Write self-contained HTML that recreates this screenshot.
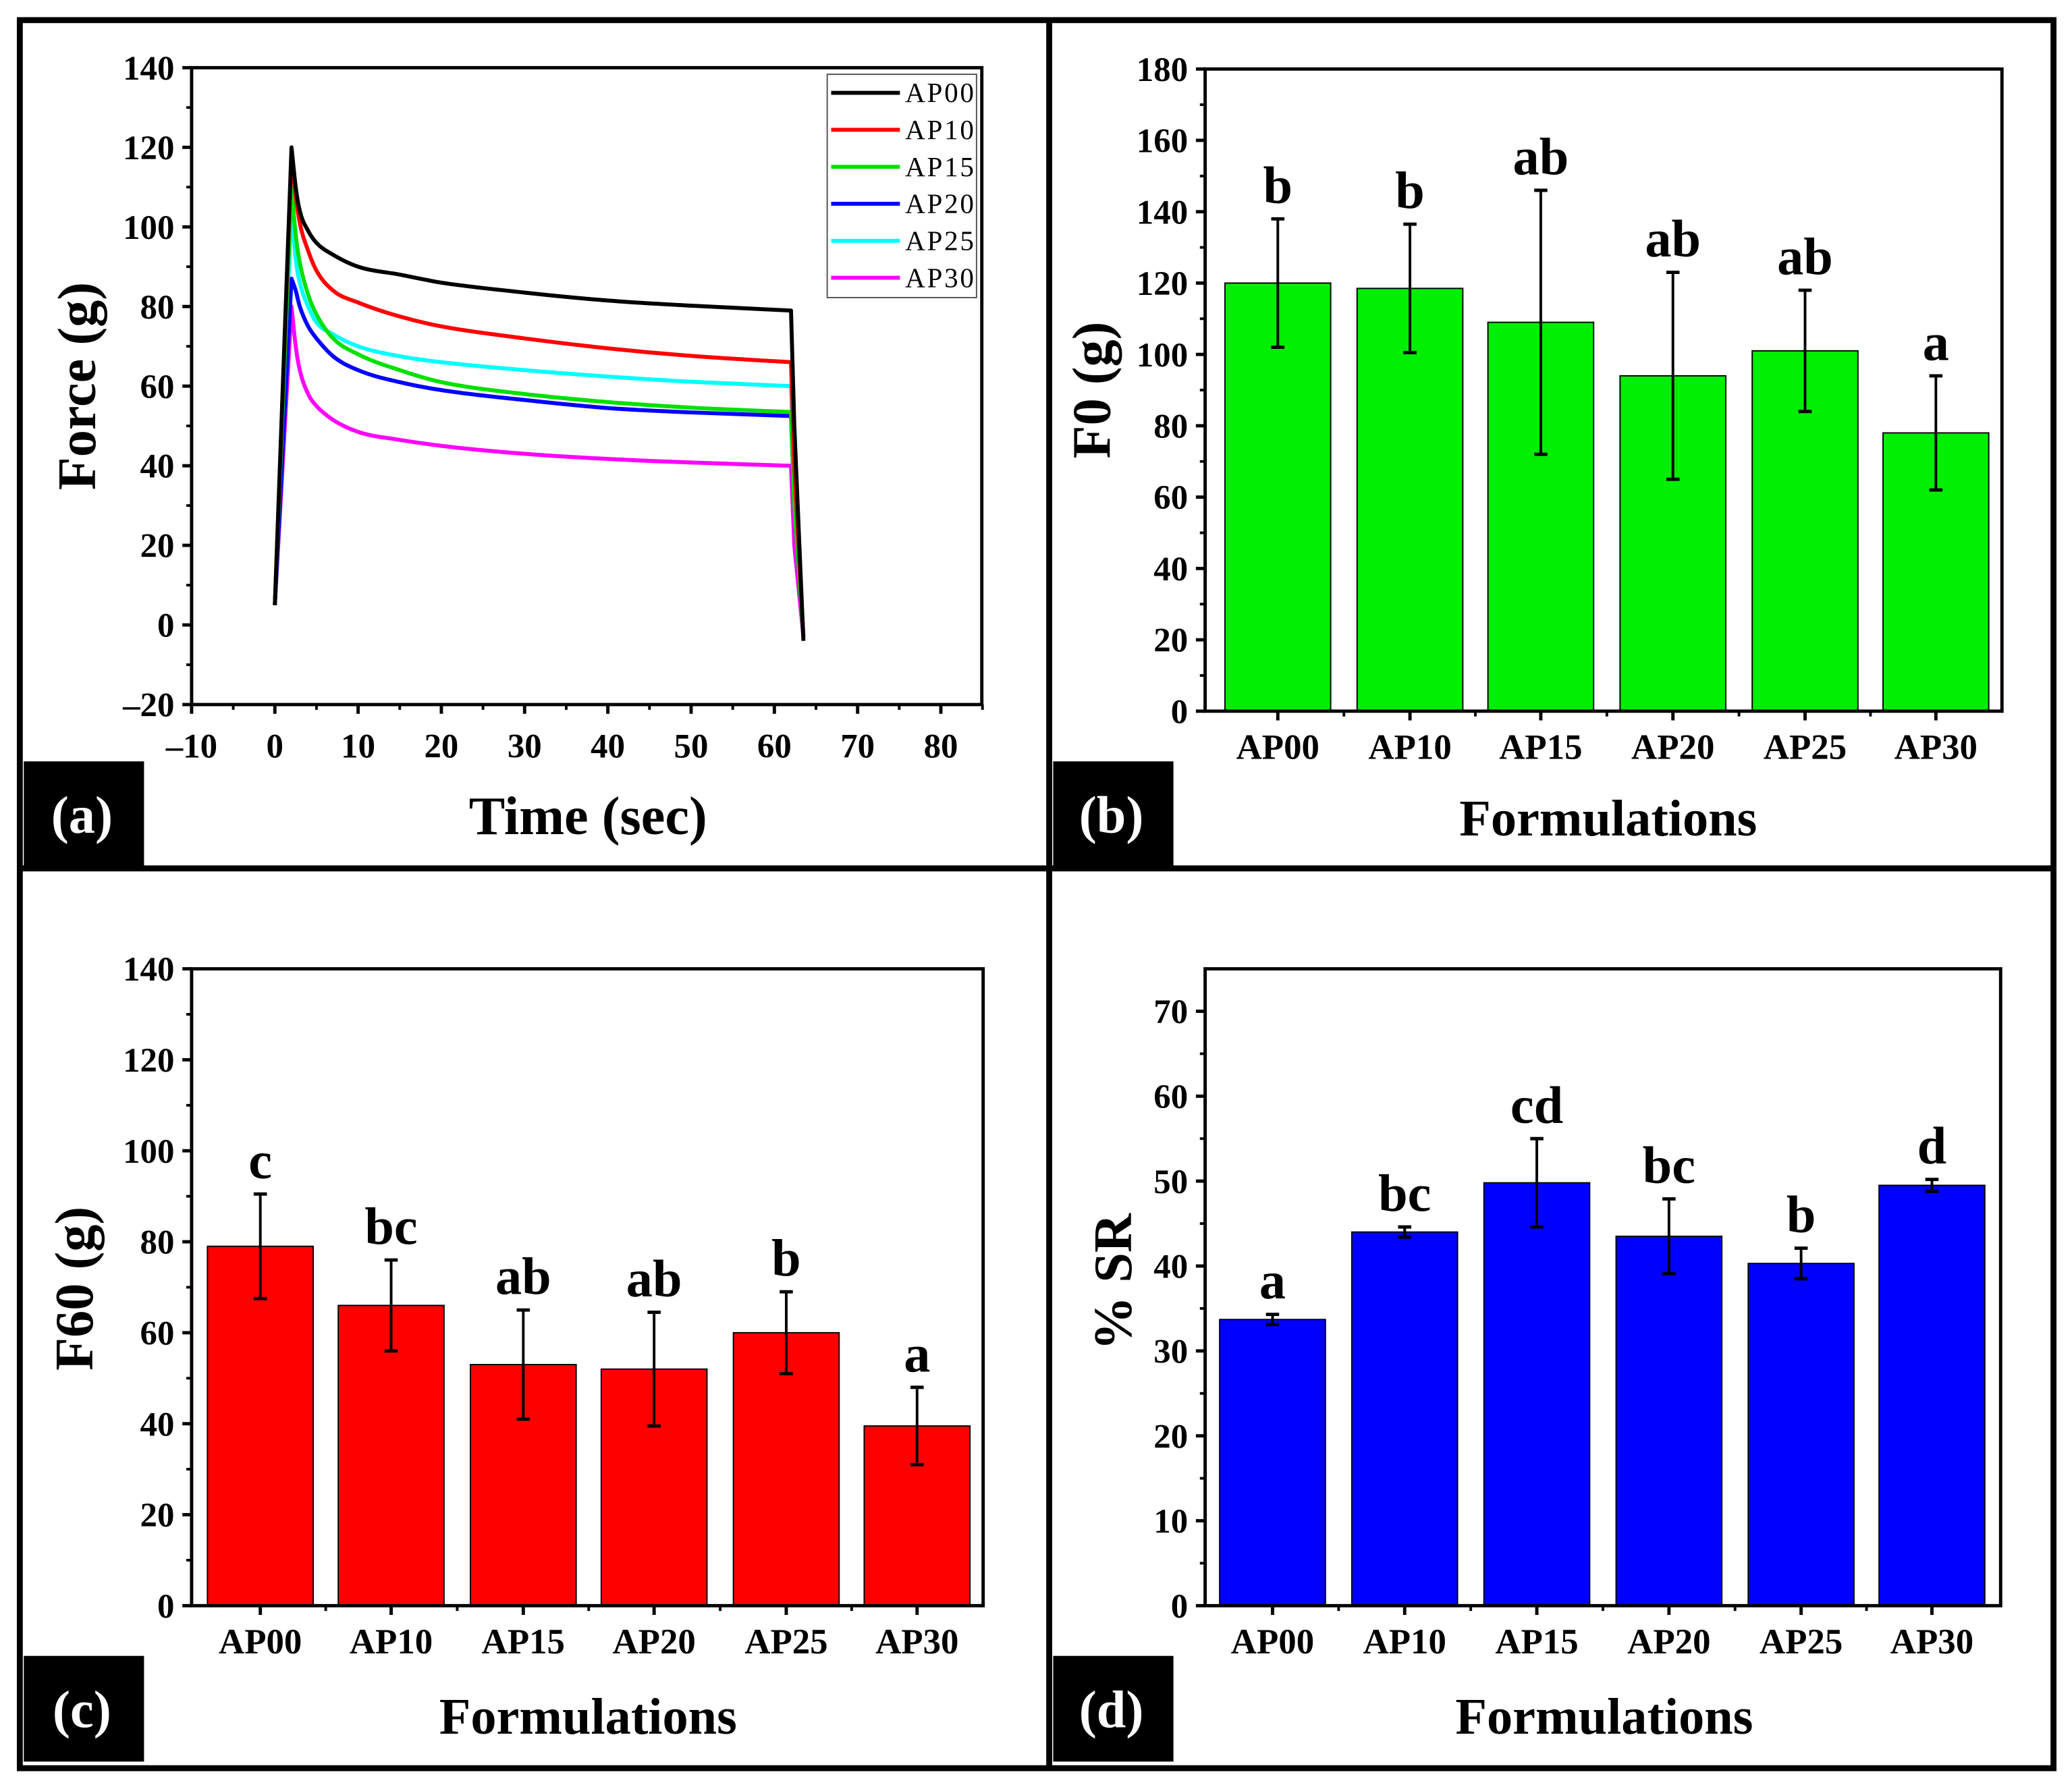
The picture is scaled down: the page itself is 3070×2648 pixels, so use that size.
<!DOCTYPE html>
<html><head><meta charset="utf-8"><style>
html,body{margin:0;padding:0;background:#fff;}
svg{display:block;font-family:"Liberation Serif",serif;font-weight:bold;}
</style></head><body>
<svg id="fig" width="3070" height="2648" viewBox="0 0 1568 1352" xmlns="http://www.w3.org/2000/svg">
<rect x="0" y="0" width="1568" height="1352" fill="#fff"/>
<rect x="15" y="15" width="1539" height="1323" fill="none" stroke="#000" stroke-width="4.5"/>
<line x1="794" y1="15" x2="794" y2="1338" stroke="#000" stroke-width="4.5"/>
<line x1="15" y1="657" x2="1554" y2="657" stroke="#000" stroke-width="4.5"/>
<g id="layer"></g>
</svg>
<script>
// ---------- Panel (a) data ----------
const timeA = [0,2,2.5,3,4,5,7,10,15,20,30,40,50,62,62.4,63.5];
const seriesNames = ["AP00","AP10","AP15","AP20","AP25","AP30"];
const ap00 = [5,120,110,104,99,96,93,90,88,86,83.5,81.5,80.2,79,50,-4];
const ap10 = [5,118,108,101,94,89,84,81,77.5,75,72,69.5,67.6,66,40,-3];
const ap15 = [5,110,98,91,83,78,72,68,64,61,58,56,54.6,53.5,30,-3];
const ap20 = [5,87,84,80,75,72,67.5,64,61,59,56.5,54.5,53.4,52.5,30,-3];
const ap25 = [5,105,92,86,80,76,73,70,67.5,66,64,62.4,61.1,60,35,-3];
const ap30 = [5,80,70,64,58,55,51.5,48.5,46.5,45,43,41.7,40.8,40,20,-3];
const xTicksA = [-10,0,10,20,30,40,50,60,70,80];
const yTicksA = [-20,0,20,40,60,80,100,120,140];
// ---------- Bar panels data ----------
const formulations = ["AP00","AP10","AP15","AP20","AP25","AP30"];
const f0Values = [120,118.5,109,94,101,78];
const f0Errors = [18,18,37,29,17,16];
const f0Letters = ["b","b","ab","ab","ab","a"];
const f0Ticks = [0,20,40,60,80,100,120,140,160,180];
const f60Values = [79,66,53,52,60,39.5];
const f60Errors = [11.5,10,12,12.5,9,8.5];
const f60Letters = ["c","bc","ab","ab","b","a"];
const f60Ticks = [0,20,40,60,80,100,120,140];
const srValues = [33.7,44,49.8,43.5,40.3,49.5];
const srErrors = [0.6,0.6,5.2,4.4,1.8,0.7];
const srLetters = ["a","bc","cd","bc","b","d"];
const srTicks = [0,10,20,30,40,50,60,70];

const NS="http://www.w3.org/2000/svg";
const layer=document.getElementById('layer');
function mk(tag,attrs,parent){const e=document.createElementNS(NS,tag);for(const k in attrs)e.setAttribute(k,attrs[k]);(parent||layer).appendChild(e);return e;}
function txt(s,attrs,parent){const e=mk('text',attrs,parent);e.textContent=s;return e;}

function axesFrame(g,L,T,R,B){
  mk('rect',{x:L,y:T,width:R-L,height:B-T,fill:'none',stroke:'#000','stroke-width':2.5},g);
}
function yAxis(g,L,ticks,ys){
  for(let i=0;i<ticks.length;i++){
    const y=ys(ticks[i]);
    mk('line',{x1:L-7,y1:y,x2:L,y2:y,stroke:'#000','stroke-width':2.5},g);
    const t=txt(String(ticks[i]).replace('-','\u2013'),{x:L-13,y:y+9,'text-anchor':'end','font-size':26},g);
    
    
    if(i<ticks.length-1){const m=(ticks[i]+ticks[i+1])/2;mk('line',{x1:L-4,y1:ys(m),x2:L,y2:ys(m),stroke:'#000','stroke-width':2},g);}
  }
}
function labelBox(x,y,s,name){
  const g=mk('g',{});
  
  
  mk('rect',{x:x,y:y,width:91,height:80,fill:'#000'},g);
  txt(s,{x:x+44,y:y+54,'text-anchor':'middle','font-size':40,fill:'#fff'},g);
}
// monotone cubic segment string (Fritsch-Carlson), without initial M
function monoSeg(X,Y){
  const n=X.length,d=[],m=[];
  for(let i=0;i<n-1;i++)d.push((Y[i+1]-Y[i])/(X[i+1]-X[i]));
  m[0]=d[0];m[n-1]=d[n-2];
  for(let i=1;i<n-1;i++){m[i]=(d[i-1]*d[i]<=0)?0:(d[i-1]+d[i])/2;}
  for(let i=0;i<n-1;i++){
    if(d[i]===0){m[i]=0;m[i+1]=0;continue;}
    const a=m[i]/d[i],b=m[i+1]/d[i],s=a*a+b*b;
    if(s>9){const t=3/Math.sqrt(s);m[i]=t*a*d[i];m[i+1]=t*b*d[i];}
  }
  let p='';
  for(let i=0;i<n-1;i++){
    const h=(X[i+1]-X[i])/3;
    p+=' C'+(X[i]+h).toFixed(1)+','+(Y[i]+m[i]*h).toFixed(1)+' '+(X[i+1]-h).toFixed(1)+','+(Y[i+1]-m[i+1]*h).toFixed(1)+' '+X[i+1].toFixed(1)+','+Y[i+1].toFixed(1);
  }
  return p;
}

// ---------- Panel (a) ----------
(function(){
  const g=mk('g',{});
  
  
  const L=145,R=743,T=51,B=533;
  const xs=v=>L+(v-(-10))*(712-145)/90;
  const ys=v=>B-(v-(-20))*(B-T)/160;
  for(let i=0;i<xTicksA.length;i++){
    const x=xs(xTicksA[i]);
    mk('line',{x1:x,y1:B,x2:x,y2:B+7,stroke:'#000','stroke-width':2.5},g);
    const t=txt(String(xTicksA[i]).replace('-','\u2013'),{x:x,y:B+40,'text-anchor':'middle','font-size':26},g);
    
    
    mk('line',{x1:x+(xs(5)-xs(0)),y1:B,x2:x+(xs(5)-xs(0)),y2:B+4,stroke:'#000','stroke-width':2},g);
  }
  yAxis(g,L,yTicksA,ys);
  const colors=["#000","#ff0000","#00e000","#0000ff","#00ffff","#ff00ff"];
  const all=[ap00,ap10,ap15,ap20,ap25,ap30];
  const peakIdx=1, endIdx=timeA.length-3;
  for(let s=all.length-1;s>=0;s--){
    const X=timeA.map(xs),Y=all[s].map(ys);
    let d='M'+X[0].toFixed(1)+','+Y[0].toFixed(1)+' L'+X[peakIdx].toFixed(1)+','+Y[peakIdx].toFixed(1);
    d+=monoSeg(X.slice(peakIdx,endIdx+1),Y.slice(peakIdx,endIdx+1));
    for(let i=endIdx+1;i<X.length;i++)d+=' L'+X[i].toFixed(1)+','+Y[i].toFixed(1);
    const p=mk('path',{d:d,fill:'none',stroke:colors[s],'stroke-width':3,'stroke-linejoin':'round'},g);
    
    
  }
  axesFrame(g,L,T,R,B);
  const lg=mk('g',{},g);
  
  
  mk('rect',{x:626,y:56,width:113,height:169,fill:'#fff',stroke:'#555','stroke-width':1},lg);
  for(let s=0;s<seriesNames.length;s++){
    const y=70+s*28;
    const e=mk('g',{},lg);
    
    
    mk('line',{x1:629,y1:y,x2:681,y2:y,stroke:colors[s],'stroke-width':3},e);
    txt(seriesNames[s],{x:685,y:y+7,'font-size':21,'font-weight':'normal',textLength:52},e);
  }
  const xt=txt('Time (sec)',{x:445,y:631,'text-anchor':'middle','font-size':41},g);
  
  
  const yt=txt('Force (g)',{x:0,y:0,'text-anchor':'middle','font-size':41,transform:'translate(72,292) rotate(-90)'},g);
  
  
})();
labelBox(18,576,'(a)','panel-label-a');

// ---------- Bar panels ----------
function barPanel(name,L,R,T,B,ymax,ticks,vals,errs,letters,color,centers,ytitle,ytx,yty,xtx,xty){
  const g=mk('g',{});
  
  
  const ys=v=>B-v*(B-T)/ymax;
  const bw=80;
  for(let i=0;i<vals.length;i++){
    const c=centers[i];
    const r=mk('rect',{x:c-bw/2,y:ys(vals[i]),width:bw,height:B-ys(vals[i]),fill:color,stroke:'#000','stroke-width':1},g);
    
    
    const eb=mk('g',{},g);
    
    
    const yt=ys(vals[i]+errs[i]),yb=ys(vals[i]-errs[i]);
    mk('line',{x1:c,y1:yt,x2:c,y2:yb,stroke:'#000','stroke-width':2},eb);
    mk('line',{x1:c-5,y1:yt,x2:c+5,y2:yt,stroke:'#000','stroke-width':2.5},eb);
    mk('line',{x1:c-5,y1:yb,x2:c+5,y2:yb,stroke:'#000','stroke-width':2.5},eb);
    const lt=txt(letters[i],{x:c,y:yt-12,'text-anchor':'middle','font-size':40},g);
    
    
    mk('line',{x1:c,y1:B,x2:c,y2:B+7,stroke:'#000','stroke-width':2.5},g);
    if(i<vals.length-1){const mx=(c+centers[i+1])/2;mk('line',{x1:mx,y1:B,x2:mx,y2:B+4,stroke:'#000','stroke-width':2},g);}
    const xl=txt(formulations[i],{x:c,y:B+36,'text-anchor':'middle','font-size':27},g);
    
    
  }
  axesFrame(g,L,T,R,B);
  yAxis(g,L,ticks,ys);
  const xt=txt('Formulations',{x:xtx,y:xty,'text-anchor':'middle','font-size':39},g);
  
  
  const yt=txt(ytitle,{x:0,y:0,'text-anchor':'middle','font-size':41,transform:'translate('+ytx+','+yty+') rotate(-90)'},g);
  
  
}
barPanel('panel-b-f0',912,1515,52,538,180,f0Ticks,f0Values,f0Errors,f0Letters,'#00ee00',[967,1067,1166,1266,1366,1465],'F0 (g)',840,295,1217,632);
labelBox(797,576,'(b)','panel-label-b');
barPanel('panel-c-f60',145,744,733,1215,140,f60Ticks,f60Values,f60Errors,f60Letters,'#ff0000',[197,296,396,495,595,694],'F60 (g)',70,975,445,1312);
labelBox(18,1253,'(c)','panel-label-c');
barPanel('panel-d-sr',912,1514,733,1215,75,srTicks,srValues,srErrors,srLetters,'#0000ff',[963,1063,1163,1263,1363,1462],'% SR',856,970,1214,1312);
labelBox(797,1253,'(d)','panel-label-d');
</script>
</body></html>
